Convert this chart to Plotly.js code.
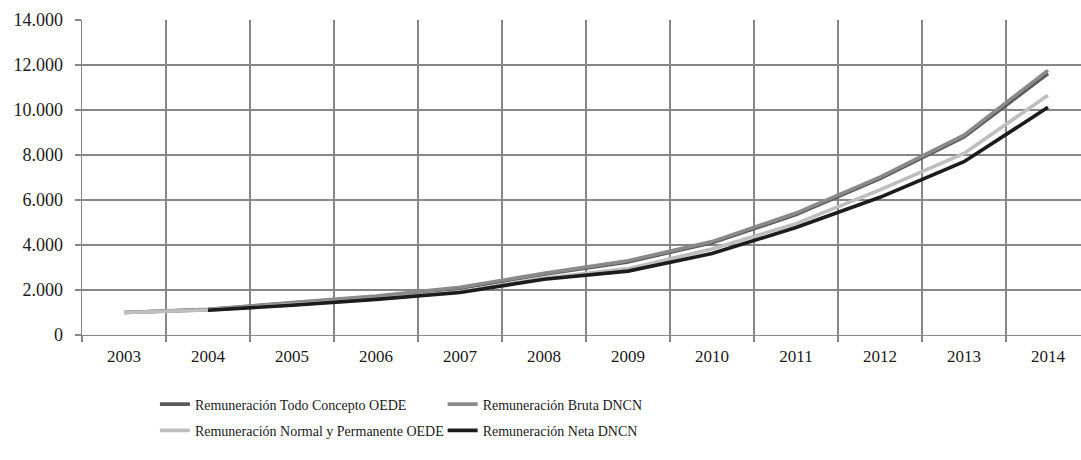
<!DOCTYPE html>
<html>
<head>
<meta charset="utf-8">
<script src="https://cdn.plot.ly/plotly-3.0.1.min.js"></script>
</head>
<body style="margin:0">
<div id="chart"></div>
<script>
const years = ["2003","2004","2005","2006","2007","2008","2009","2010","2011","2012","2013","2014"];
const todoConceptoOEDE = [1000,1130,1420,1700,2080,2700,3250,4100,5350,6950,8800,11620];
const brutaDNCN = [1000,1140,1440,1730,2120,2740,3300,4150,5420,7020,8880,11760];
const normalPermanenteOEDE = [1000,1110,1340,1600,1920,2520,2950,3820,4950,6450,8070,10660];
const netaDNCN = [null,1100,1320,1585,1890,2480,2840,3620,4780,6120,7700,10120];
const seriesNames = ["Remuneración Todo Concepto OEDE","Remuneración Bruta DNCN","Remuneración Normal y Permanente OEDE","Remuneración Neta DNCN"];

function tr(name, y, color, legend, group){
  return {x: years, y: y, name: name, type: "scatter", mode: "lines",
    line: {color: color, width: 3.6}, legend: legend, legendgroup: group, connectgaps: false, hoverinfo: "skip"};
}
const data = [
  tr(seriesNames[0], todoConceptoOEDE, "#5a5a5a", "legend", "a"),
  tr(seriesNames[1], brutaDNCN, "#8a8a8a", "legend2", "b"),
  tr(seriesNames[2], normalPermanenteOEDE, "#bebebe", "legend", "c"),
  tr(seriesNames[3], netaDNCN, "#1c1c1c", "legend2", "d")
];
function legendCfg(x){
  return {orientation: "v", yanchor: "top", xanchor: "left", bgcolor: "rgba(0,0,0,0)", x: x, y: -0.17,
    font: {family: "Times New Roman", size: 14, color: "#1a1a1a"}, tracegroupgap: 5, traceorder: "grouped", itemwidth: 30};
}
const layout = {
  width: 1081, height: 460,
  margin: {l: 82, r: 0, t: 20, b: 125},
  paper_bgcolor: "#fff", plot_bgcolor: "#fff",
  separators: ",.",
  font: {family: "Times New Roman", size: 18, color: "#1a1a1a"},
  showlegend: true,
  xaxis: {type: "category", tickson: "boundaries", range: [-0.5, 11.393],
    showgrid: true, gridcolor: "#878787", gridwidth: 1.3,
    showline: true, linecolor: "#878787", linewidth: 1.3,
    ticks: "outside", ticklen: 6, tickcolor: "#878787", tickwidth: 1.3, ticklabelstandoff: 5,
    tickfont: {family: "Times New Roman", size: 17, color: "#1a1a1a"}, zeroline: false, fixedrange: true},
  yaxis: {range: [0, 14000], tickvals: [0,2000,4000,6000,8000,10000,12000,14000], tickformat: ",d",
    showgrid: true, gridcolor: "#878787", gridwidth: 1.3,
    showline: true, linecolor: "#878787", linewidth: 1.3,
    ticks: "outside", ticklen: 6, tickcolor: "#878787", tickwidth: 1.3, ticklabelstandoff: 8,
    tickfont: {family: "Times New Roman", size: 18, color: "#1a1a1a"}, zeroline: false, fixedrange: true},
  legend: legendCfg(0.073),
  legend2: legendCfg(0.361)
};
Plotly.newPlot("chart", data, layout, {displayModeBar: false, staticPlot: true});
</script>
</body>
</html>
